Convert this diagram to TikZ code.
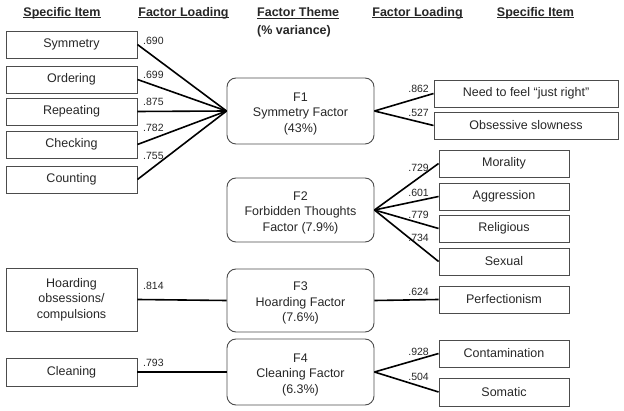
\documentclass[tikz,border=0pt]{standalone}
\usepackage{fontspec}
\setmainfont{Liberation Sans}
\newcommand\myul[1]{\setbox0\hbox{#1}\rlap{\vrule width\wd0 height -1.1pt depth 2.0pt}\box0}
\begin{document}
\begin{tikzpicture}[x=1pt,y=-1pt,
  txt/.style={font=\fontsize{12.5}{15.5}\selectfont, text=black!85, align=center, inner sep=0pt},
  item/.style={txt, draw=black!70, line width=0.9pt, minimum height=27pt},
  lbox/.style={item, minimum width=131pt},
  rbox/.style={item, minimum width=130pt},
  wbox/.style={item, minimum width=184pt},
  fbox/.style={draw=black!70, line width=0.9pt, rounded corners=9pt, minimum width=147pt, inner sep=0pt},
  ftxt/.style={txt, yshift=-2.5pt},
  hdr/.style={font=\fontsize{12.5}{15}\selectfont\bfseries, text=black!85, inner sep=0pt},
  num/.style={font=\fontsize{10.5}{12}\selectfont, text=black!85, inner sep=0pt},
  link/.style={line width=1.6pt, black}]
\useasboundingbox (0,0) rectangle (624,411);
% headers
\node[hdr] (h1) at (62,13) {\myul{Specific Item}};
\node[hdr] (h2) at (183.5,13) {\myul{Factor Loading}};
\node[hdr,anchor=west] (h3) at (257,13) {\myul{Factor Theme}};
\node[hdr,anchor=west] (h3b) at (257,31) {(\% variance)};
\node[hdr] (h4) at (417.5,13) {\myul{Factor Loading}};
\node[hdr] (h5) at (535.5,13) {\myul{Specific Item}};
% left boxes
\node[lbox] (sym) at (71.5,44.5) {Symmetry};
\node[lbox] (ord) at (71.5,79.5) {Ordering};
\node[lbox] (rep) at (71.5,111.5) {Repeating};
\node[lbox] (chk) at (71.5,144.5) {Checking};
\node[lbox] (cnt) at (71.5,179.5) {Counting};
\node[lbox, minimum height=63pt] (hoa) at (71.5,299.5) {Hoarding\\obsessions/\\compulsions};
\node[lbox, minimum height=28pt] (cle) at (71.5,372) {Cleaning};
% factor boxes
\node[fbox, minimum height=66pt] (f1) at (300.5,111) {};
\node[fbox, minimum height=64pt] (f2) at (300.5,210) {};
\node[fbox, minimum height=63pt] (f3) at (300.5,300.5) {};
\node[fbox, minimum height=66pt] (f4) at (300.5,372) {};
\node[ftxt] (f1t) at (f1) {F1\\Symmetry Factor\\(43\%)};
\node[ftxt] (f2t) at (f2) {F2\\Forbidden Thoughts\\Factor (7.9\%)};
\node[ftxt] (f3t) at (f3) {F3\\Hoarding Factor\\(7.6\%)};
\node[ftxt] (f4t) at (f4) {F4\\Cleaning Factor\\(6.3\%)};
% right boxes
\node[wbox] (jr) at (526,93.5) {Need to feel “just right”};
\node[wbox] (slo) at (526,125.5) {Obsessive slowness};
\node[rbox] (mor) at (504,163.5) {Morality};
\node[rbox] (agg) at (504,196.5) {Aggression};
\node[rbox] (rel) at (504,228.5) {Religious};
\node[rbox] (sex) at (504,261.5) {Sexual};
\node[rbox] (per) at (504,299.5) {Perfectionism};
\node[rbox] (con) at (504,353.5) {Contamination};
\node[rbox, minimum height=28pt] (som) at (504,392) {Somatic};
% links
\foreach \n in {sym,ord,rep,chk,cnt} \draw[link] (\n.east) -- (f1.west);
\draw[link] (hoa.east) -- (f3.west);
\draw[link] (cle.east) -- (f4.west);
\foreach \n in {jr,slo} \draw[link] (f1.east) -- (\n.west);
\foreach \n in {mor,agg,rel,sex} \draw[link] (f2.east) -- (\n.west);
\draw[link] (f3.east) -- (per.west);
\foreach \n in {con,som} \draw[link] (f4.east) -- (\n.west);
% loadings left
\node[num,anchor=west] (l1) at (143,41) {.690};
\node[num,anchor=west] (l2) at (143,75) {.699};
\node[num,anchor=west] (l3) at (143,102) {.875};
\node[num,anchor=west] (l4) at (143,128) {.782};
\node[num,anchor=west] (l5) at (143,156) {.755};
\node[num,anchor=west] (l6) at (143,286) {.814};
\node[num,anchor=west] (l7) at (143,363) {.793};
% loadings right
\node[num,anchor=east] (r1) at (429,89) {.862};
\node[num,anchor=east] (r2) at (429,113) {.527};
\node[num,anchor=east] (r3) at (429,168) {.729};
\node[num,anchor=east] (r4) at (429,193) {.601};
\node[num,anchor=east] (r5) at (429,215) {.779};
\node[num,anchor=east] (r6) at (429,238) {.734};
\node[num,anchor=east] (r7) at (429,292) {.624};
\node[num,anchor=east] (r8) at (429,352) {.928};
\node[num,anchor=east] (r9) at (429,377) {.504};
\end{tikzpicture}
\end{document}
